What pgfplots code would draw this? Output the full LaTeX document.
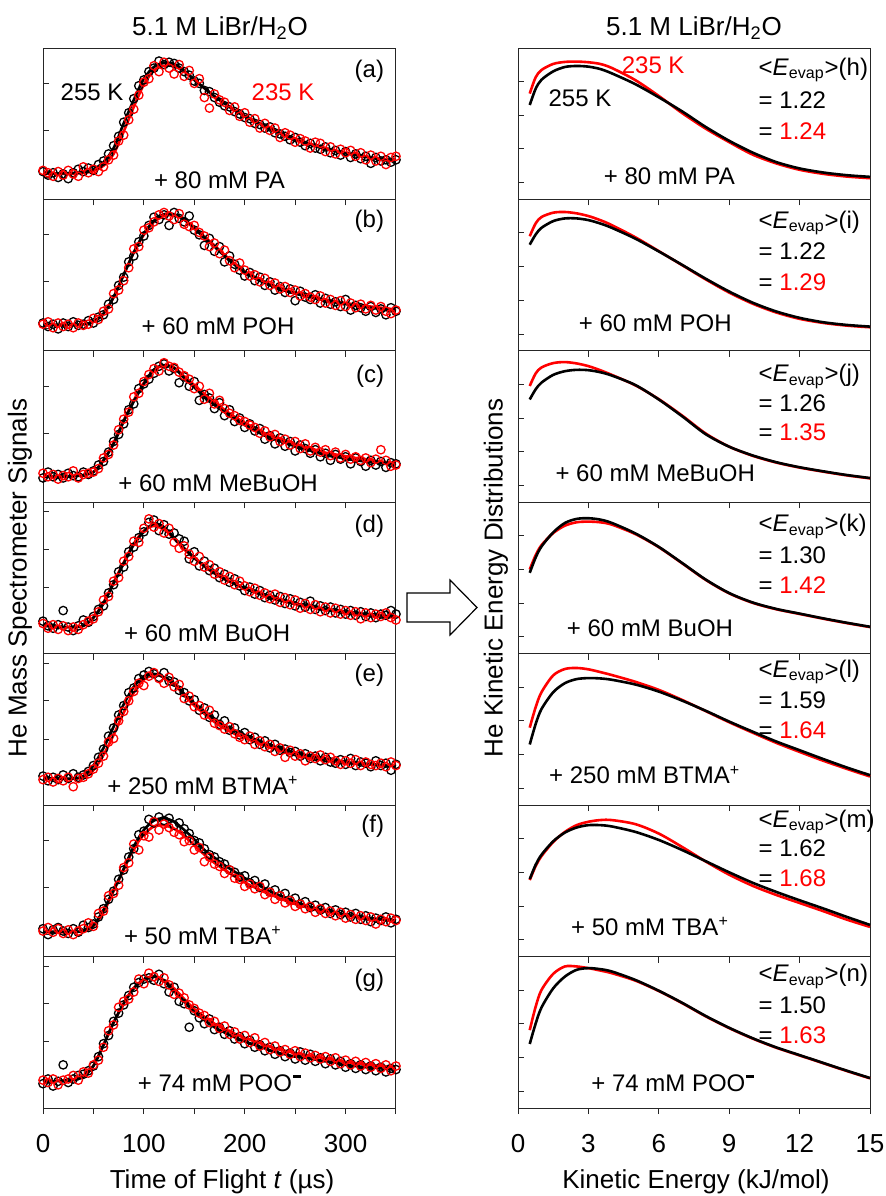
\documentclass[border=0pt]{standalone}
\usepackage{fontspec}
\setmainfont{Liberation Sans}
\usepackage{pgfplots}
\usepackage{pgfplotstable}
\pgfplotsset{compat=1.18}

% ---------- left column: TOF data (x K R) ----------
\pgfplotstableread{
x K R
0 0.05 0.06
5 0.02 0.04
10 0.04 0.01
15 0.00 0.05
20 0.03 0.02
25 -0.01 0.06
30 0.04 0.03
35 0.07 0.01
40 0.05 0.09
45 0.08 0.04
50 0.06 0.07
55 0.11 0.05
60 0.14 0.09
65 0.20 0.15
70 0.27 0.19
75 0.35 0.31
80 0.47 0.36
85 0.55 0.49
90 0.67 0.58
95 0.78 0.70
100 0.83 0.81
105 0.90 0.84
110 0.93 0.95
115 0.99 0.90
120 0.96 0.98
125 0.98 0.93
130 0.97 0.88
135 0.93 0.96
140 0.90 0.86
145 0.87 0.91
150 0.82 0.80
155 0.80 0.84
160 0.74 0.68
165 0.73 0.59
170 0.68 0.71
175 0.64 0.66
180 0.61 0.64
185 0.60 0.57
190 0.56 0.60
195 0.54 0.52
200 0.51 0.55
205 0.50 0.47
210 0.46 0.50
215 0.45 0.42
220 0.42 0.46
225 0.43 0.40
230 0.38 0.42
235 0.37 0.34
240 0.35 0.38
245 0.32 0.36
250 0.34 0.30
255 0.30 0.33
260 0.27 0.31
265 0.29 0.25
270 0.25 0.30
275 0.24 0.29
280 0.26 0.22
285 0.21 0.26
290 0.23 0.20
295 0.19 0.24
300 0.22 0.21
305 0.17 0.23
310 0.20 0.18
315 0.16 0.21
320 0.18 0.15
325 0.12 0.19
330 0.17 0.14
335 0.14 0.18
340 0.15 0.11
345 0.13 0.17
350 0.15 0.18
}\dataA
\pgfplotstableread{
x K R
0 0.05 0.04
5 0.02 0.06
10 0.04 0.01
15 0.00 0.05
20 0.05 0.02
25 0.02 0.04
30 0.06 0.01
35 0.03 0.05
40 0.04 0.03
45 0.07 0.04
50 0.05 0.09
55 0.10 0.08
60 0.12 0.15
65 0.21 0.17
70 0.25 0.30
75 0.37 0.33
80 0.44 0.41
85 0.57 0.52
90 0.62 0.68
95 0.74 0.70
100 0.79 0.84
105 0.88 0.86
110 0.95 0.91
115 0.93 0.97
120 0.97 0.99
125 0.88 0.96
130 0.99 0.93
135 0.94 0.98
140 0.91 0.89
145 0.96 0.87
150 0.84 0.88
155 0.80 0.82
160 0.71 0.79
165 0.77 0.70
170 0.66 0.73
175 0.70 0.64
180 0.57 0.67
185 0.62 0.58
190 0.55 0.52
195 0.50 0.56
200 0.45 0.50
205 0.48 0.45
210 0.41 0.46
215 0.44 0.40
220 0.37 0.43
225 0.40 0.37
230 0.33 0.39
235 0.36 0.34
240 0.31 0.36
245 0.34 0.31
250 0.24 0.33
255 0.32 0.28
260 0.27 0.30
265 0.25 0.27
270 0.29 0.25
275 0.22 0.28
280 0.26 0.22
285 0.21 0.25
290 0.23 0.20
295 0.19 0.24
300 0.25 0.19
305 0.16 0.22
310 0.20 0.18
315 0.18 0.21
320 0.15 0.17
325 0.19 0.20
330 0.14 0.16
335 0.17 0.19
340 0.12 0.15
345 0.18 0.13
350 0.15 0.16
}\dataB
\pgfplotstableread{
x K R
0 0.02 0.06
5 0.07 0.03
10 0.03 0.05
15 0.05 0.01
20 0.02 0.04
25 0.06 0.03
30 0.04 0.08
35 0.03 0.02
40 0.07 0.05
45 0.05 0.06
50 0.08 0.07
55 0.13 0.10
60 0.16 0.19
65 0.24 0.22
70 0.33 0.30
75 0.39 0.43
80 0.48 0.52
85 0.60 0.58
90 0.65 0.71
95 0.78 0.74
100 0.82 0.84
105 0.86 0.90
110 0.91 0.95
115 0.97 0.93
120 0.99 1.00
125 0.93 0.97
130 0.95 0.96
135 0.83 0.92
140 0.88 0.89
145 0.80 0.86
150 0.84 0.78
155 0.68 0.80
160 0.73 0.69
165 0.70 0.74
170 0.61 0.65
175 0.66 0.68
180 0.55 0.61
185 0.60 0.57
190 0.50 0.55
195 0.53 0.51
200 0.45 0.50
205 0.48 0.47
210 0.42 0.45
215 0.44 0.40
220 0.35 0.42
225 0.38 0.37
230 0.31 0.39
235 0.36 0.33
240 0.29 0.35
245 0.33 0.30
250 0.25 0.33
255 0.30 0.27
260 0.27 0.31
265 0.23 0.25
270 0.26 0.28
275 0.20 0.24
280 0.23 0.26
285 0.17 0.21
290 0.22 0.24
295 0.18 0.19
300 0.20 0.22
305 0.14 0.18
310 0.19 0.20
315 0.16 0.17
320 0.12 0.19
325 0.17 0.15
330 0.13 0.18
335 0.16 0.26
340 0.11 0.17
345 0.15 0.12
350 0.14 0.13
}\dataC
\pgfplotstableread{
x K R
0 0.09 0.07
5 0.05 0.03
10 0.03 0.06
15 0.06 0.02
20 0.18 0.05
25 0.04 0.01
30 0.01 0.04
35 0.05 0.02
40 0.10 0.06
45 0.08 0.09
50 0.13 0.11
55 0.19 0.17
60 0.22 0.27
65 0.33 0.30
70 0.40 0.43
75 0.51 0.46
80 0.55 0.60
85 0.68 0.64
90 0.72 0.77
95 0.80 0.76
100 0.85 0.88
105 0.93 0.96
110 0.95 0.89
115 0.86 0.92
120 0.91 0.84
125 0.83 0.88
130 0.84 0.76
135 0.79 0.71
140 0.77 0.73
145 0.62 0.66
150 0.68 0.60
155 0.56 0.64
160 0.60 0.55
165 0.52 0.57
170 0.54 0.49
175 0.46 0.51
180 0.49 0.44
185 0.42 0.47
190 0.45 0.40
195 0.39 0.43
200 0.35 0.39
205 0.38 0.34
210 0.32 0.37
215 0.35 0.31
220 0.29 0.33
225 0.31 0.28
230 0.27 0.32
235 0.30 0.25
240 0.24 0.29
245 0.28 0.23
250 0.22 0.27
255 0.25 0.20
260 0.21 0.24
265 0.26 0.19
270 0.19 0.23
275 0.22 0.17
280 0.18 0.21
285 0.21 0.16
290 0.16 0.20
295 0.19 0.15
300 0.15 0.18
305 0.18 0.14
310 0.14 0.17
315 0.17 0.11
320 0.13 0.16
325 0.16 0.12
330 0.12 0.15
335 0.15 0.13
340 0.14 0.16
345 0.18 0.12
350 0.15 0.10
}\dataD
\pgfplotstableread{
x K R
0 0.06 0.03
5 0.02 0.05
10 0.05 0.01
15 0.03 0.04
20 0.07 0.02
25 0.04 0.05
30 0.08 -0.03
35 0.05 0.04
40 0.07 0.05
45 0.10 0.08
50 0.15 0.12
55 0.22 0.17
60 0.29 0.23
65 0.40 0.35
70 0.47 0.38
75 0.58 0.53
80 0.66 0.61
85 0.77 0.70
90 0.81 0.78
95 0.89 0.85
100 0.92 0.83
105 0.95 0.91
110 0.93 0.94
115 0.90 0.89
120 0.94 0.85
125 0.87 0.90
130 0.86 0.82
135 0.79 0.84
140 0.77 0.72
145 0.70 0.74
150 0.71 0.65
155 0.62 0.66
160 0.64 0.58
165 0.56 0.62
170 0.58 0.51
175 0.50 0.49
180 0.53 0.46
185 0.45 0.48
190 0.47 0.42
195 0.41 0.39
200 0.43 0.37
205 0.37 0.40
210 0.39 0.33
215 0.33 0.36
220 0.36 0.31
225 0.30 0.33
230 0.33 0.27
235 0.28 0.30
240 0.29 0.22
245 0.26 0.28
250 0.27 0.23
255 0.23 0.25
260 0.25 0.19
265 0.21 0.23
270 0.23 0.21
275 0.19 0.24
280 0.22 0.20
285 0.18 0.22
290 0.17 0.19
295 0.20 0.16
300 0.16 0.19
305 0.21 0.17
310 0.15 0.20
315 0.18 0.15
320 0.17 0.18
325 0.14 0.16
330 0.19 0.15
335 0.15 0.17
340 0.17 0.14
345 0.11 0.18
350 0.16 0.15
}\dataE
\pgfplotstableread{
x K R
0 0.05 0.03
5 0.00 0.06
10 0.04 0.02
15 0.06 0.05
20 0.03 0.01
25 0.01 0.04
30 0.05 0.00
35 0.02 0.03
40 0.08 0.05
45 0.06 0.10
50 0.09 0.07
55 0.15 0.18
60 0.22 0.20
65 0.30 0.33
70 0.37 0.35
75 0.47 0.42
80 0.55 0.57
85 0.66 0.61
90 0.73 0.77
95 0.85 0.72
100 0.88 0.84
105 0.98 0.83
110 0.95 0.96
115 1.00 0.89
120 0.97 0.94
125 0.99 0.91
130 0.93 0.87
135 0.95 0.85
140 0.90 0.79
145 0.86 0.80
150 0.80 0.72
155 0.78 0.74
160 0.73 0.62
165 0.68 0.66
170 0.66 0.60
175 0.62 0.58
180 0.60 0.52
185 0.55 0.55
190 0.53 0.48
195 0.49 0.47
200 0.50 0.41
205 0.44 0.43
210 0.46 0.39
215 0.40 0.41
220 0.43 0.34
225 0.36 0.36
230 0.38 0.30
235 0.33 0.33
240 0.35 0.27
245 0.29 0.29
250 0.31 0.24
255 0.26 0.26
260 0.28 0.22
265 0.23 0.24
270 0.25 0.19
275 0.21 0.22
280 0.23 0.18
285 0.18 0.20
290 0.21 0.16
295 0.17 0.19
300 0.19 0.14
305 0.15 0.17
310 0.18 0.13
315 0.13 0.16
320 0.16 0.12
325 0.11 0.15
330 0.14 0.09
335 0.12 0.13
340 0.15 0.11
345 0.10 0.14
350 0.13 0.12
}\dataF
\pgfplotstableread{
x K R
0 0.02 0.05
5 0.06 0.03
10 0.00 0.06
15 0.04 0.01
20 0.18 0.05
25 0.03 0.06
30 0.06 0.09
35 0.09 0.05
40 0.10 0.12
45 0.13 0.11
50 0.17 0.18
55 0.25 0.22
60 0.36 0.33
65 0.43 0.47
70 0.55 0.52
75 0.62 0.67
80 0.69 0.72
85 0.77 0.74
90 0.84 0.80
95 0.88 0.91
100 0.91 0.87
105 0.92 0.96
110 0.90 0.93
115 0.95 0.89
120 0.87 0.92
125 0.80 0.86
130 0.84 0.78
135 0.72 0.79
140 0.70 0.75
145 0.50 0.69
150 0.64 0.66
155 0.58 0.62
160 0.53 0.60
165 0.57 0.54
170 0.48 0.55
175 0.50 0.49
180 0.44 0.51
185 0.47 0.44
190 0.40 0.46
195 0.42 0.40
200 0.36 0.43
205 0.39 0.37
210 0.33 0.41
215 0.35 0.34
220 0.30 0.37
225 0.33 0.31
230 0.27 0.34
235 0.30 0.29
240 0.25 0.31
245 0.28 0.27
250 0.23 0.30
255 0.29 0.25
260 0.22 0.28
265 0.27 0.24
270 0.21 0.26
275 0.24 0.23
280 0.19 0.25
285 0.23 0.21
290 0.18 0.24
295 0.21 0.19
300 0.16 0.22
305 0.19 0.18
310 0.15 0.21
315 0.18 0.17
320 0.14 0.20
325 0.17 0.16
330 0.13 0.19
335 0.16 0.15
340 0.12 0.18
345 0.15 0.13
350 0.14 0.17
}\dataG

% ---------- left column: fitted curves ----------
\pgfplotstableread{
x K R
0 0.035 0.030
10 0.035 0.030
20 0.035 0.030
30 0.038 0.032
40 0.045 0.038
50 0.070 0.055
60 0.130 0.100
70 0.250 0.200
80 0.460 0.390
90 0.660 0.600
100 0.840 0.790
110 0.940 0.910
120 0.975 0.950
130 0.965 0.945
140 0.910 0.900
150 0.830 0.830
160 0.760 0.760
170 0.690 0.690
180 0.630 0.630
190 0.570 0.575
200 0.520 0.525
210 0.475 0.480
220 0.435 0.440
230 0.395 0.400
240 0.355 0.362
250 0.322 0.330
260 0.292 0.300
270 0.266 0.273
280 0.242 0.250
290 0.222 0.228
300 0.205 0.210
310 0.190 0.195
320 0.175 0.180
330 0.160 0.165
340 0.147 0.152
350 0.135 0.140
}\fitA
\pgfplotstableread{
x K R
0 0.033 0.033
10 0.033 0.033
20 0.033 0.033
30 0.035 0.035
40 0.040 0.040
50 0.060 0.060
60 0.130 0.130
70 0.270 0.270
80 0.460 0.460
90 0.650 0.650
100 0.810 0.800
110 0.920 0.910
120 0.975 0.960
130 0.975 0.965
140 0.930 0.930
150 0.855 0.860
160 0.775 0.785
170 0.700 0.710
180 0.620 0.630
190 0.545 0.555
200 0.480 0.490
210 0.430 0.440
220 0.390 0.400
230 0.355 0.365
240 0.325 0.335
250 0.300 0.310
260 0.280 0.290
270 0.260 0.270
280 0.240 0.250
290 0.225 0.235
300 0.210 0.220
310 0.197 0.207
320 0.185 0.195
330 0.175 0.185
340 0.165 0.175
350 0.155 0.165
}\fitB
\pgfplotstableread{
x K R
0 0.030 0.030
10 0.030 0.030
20 0.030 0.030
30 0.035 0.035
40 0.045 0.045
50 0.070 0.070
60 0.170 0.170
70 0.310 0.320
80 0.500 0.510
90 0.670 0.680
100 0.820 0.830
110 0.940 0.940
120 0.980 0.975
130 0.955 0.960
140 0.870 0.885
150 0.790 0.810
160 0.710 0.735
170 0.640 0.665
180 0.580 0.600
190 0.520 0.540
200 0.470 0.490
210 0.425 0.445
220 0.380 0.400
230 0.350 0.370
240 0.320 0.340
250 0.290 0.310
260 0.265 0.285
270 0.240 0.260
280 0.215 0.235
290 0.200 0.220
300 0.185 0.205
310 0.170 0.190
320 0.160 0.180
330 0.150 0.165
340 0.140 0.155
350 0.130 0.145
}\fitC
\pgfplotstableread{
x K R
0 0.050 0.050
10 0.045 0.045
20 0.040 0.040
30 0.040 0.040
40 0.050 0.050
50 0.120 0.120
60 0.240 0.250
70 0.410 0.420
80 0.580 0.590
90 0.740 0.750
100 0.850 0.860
110 0.920 0.900
120 0.890 0.870
130 0.800 0.790
140 0.710 0.700
150 0.630 0.625
160 0.560 0.555
170 0.500 0.495
180 0.450 0.445
190 0.410 0.405
200 0.370 0.365
210 0.340 0.335
220 0.310 0.305
230 0.280 0.275
240 0.260 0.255
250 0.240 0.235
260 0.225 0.215
270 0.210 0.200
280 0.195 0.185
290 0.185 0.175
300 0.170 0.160
310 0.160 0.150
320 0.150 0.140
330 0.145 0.133
340 0.135 0.125
350 0.130 0.120
}\fitD
\pgfplotstableread{
x K R
0 0.040 0.035
10 0.040 0.035
20 0.040 0.035
30 0.040 0.037
40 0.060 0.050
50 0.150 0.110
60 0.300 0.240
70 0.480 0.410
80 0.670 0.600
90 0.820 0.770
100 0.910 0.880
110 0.930 0.920
120 0.900 0.900
130 0.850 0.840
140 0.760 0.750
150 0.680 0.660
160 0.610 0.590
170 0.550 0.520
180 0.490 0.465
190 0.450 0.420
200 0.410 0.385
210 0.375 0.350
220 0.340 0.320
230 0.310 0.290
240 0.285 0.265
250 0.260 0.240
260 0.240 0.220
270 0.225 0.205
280 0.210 0.190
290 0.195 0.180
300 0.180 0.170
310 0.170 0.165
320 0.165 0.160
330 0.160 0.155
340 0.150 0.150
350 0.146 0.146
}\fitE
\pgfplotstableread{
x K R
0 0.025 0.020
10 0.025 0.020
20 0.025 0.020
30 0.025 0.022
40 0.030 0.030
50 0.080 0.070
60 0.210 0.190
70 0.380 0.370
80 0.560 0.550
90 0.750 0.730
100 0.890 0.850
110 0.970 0.920
120 0.990 0.930
130 0.960 0.900
140 0.890 0.840
150 0.810 0.760
160 0.720 0.680
170 0.655 0.610
180 0.590 0.550
190 0.535 0.495
200 0.480 0.445
210 0.440 0.400
220 0.390 0.360
230 0.350 0.325
240 0.315 0.290
250 0.280 0.260
260 0.250 0.235
270 0.225 0.210
280 0.205 0.195
290 0.190 0.180
300 0.170 0.165
310 0.155 0.150
320 0.145 0.140
330 0.135 0.130
340 0.125 0.125
350 0.120 0.120
}\fitF
\pgfplotstableread{
x K R
0 0.037 0.040
10 0.040 0.042
20 0.045 0.047
30 0.050 0.055
40 0.080 0.085
50 0.170 0.175
60 0.350 0.350
70 0.540 0.540
80 0.700 0.705
90 0.830 0.835
100 0.900 0.905
110 0.930 0.935
120 0.890 0.900
130 0.810 0.830
140 0.720 0.740
150 0.630 0.655
160 0.560 0.590
170 0.500 0.530
180 0.455 0.485
190 0.415 0.445
200 0.380 0.410
210 0.350 0.380
220 0.320 0.350
230 0.290 0.320
240 0.270 0.300
250 0.250 0.280
260 0.240 0.265
270 0.225 0.250
280 0.210 0.235
290 0.200 0.220
300 0.180 0.205
310 0.170 0.195
320 0.160 0.185
330 0.155 0.175
340 0.145 0.168
350 0.140 0.160
}\fitG

% ---------- right column: kinetic energy distributions (E K R) ----------
\pgfplotstableread{
E K R
0.5 2.80 3.14
0.75 3.28 3.62
1 3.55 3.84
1.5 3.80 4.02
2 3.93 4.08
2.5 3.96 4.09
3 3.94 4.07
3.5 3.87 4.02
4 3.74 3.90
5 3.42 3.54
6 3.03 3.07
7 2.61 2.56
8 2.15 2.10
9 1.74 1.70
10 1.39 1.33
11 1.11 1.07
12 0.92 0.88
13 0.80 0.76
14 0.72 0.68
15 0.67 0.63
}\distH
\pgfplotstableread{
E K R
0.5 3.15 3.40
0.75 3.45 3.78
1 3.65 3.97
1.5 3.85 4.10
2 3.93 4.12
2.5 3.93 4.08
3 3.88 4.00
3.5 3.78 3.88
4 3.65 3.73
5 3.33 3.37
6 2.95 2.96
7 2.55 2.54
8 2.14 2.12
9 1.76 1.73
10 1.43 1.40
11 1.17 1.14
12 0.98 0.95
13 0.85 0.83
14 0.77 0.75
15 0.72 0.70
}\distI
\pgfplotstableread{
E K R
0.5 3.05 3.45
0.75 3.35 3.82
1 3.55 4.00
1.5 3.78 4.13
2 3.89 4.16
2.5 3.93 4.12
3 3.92 4.04
3.5 3.86 3.92
4 3.76 3.78
5 3.48 3.47
6 3.05 3.06
7 2.55 2.57
8 2.02 2.04
9 1.65 1.65
10 1.39 1.38
11 1.19 1.18
12 1.04 1.03
13 0.92 0.91
14 0.81 0.80
15 0.72 0.71
}\distJ
\pgfplotstableread{
E K R
0.5 2.40 2.50
0.75 2.85 2.92
1 3.18 3.22
1.5 3.60 3.58
2 3.88 3.80
2.5 4.00 3.90
3 4.02 3.92
3.5 3.98 3.90
4 3.88 3.83
5 3.57 3.55
6 3.17 3.16
7 2.69 2.68
8 2.20 2.19
9 1.80 1.79
10 1.52 1.51
11 1.33 1.32
12 1.19 1.18
13 1.05 1.04
14 0.92 0.91
15 0.80 0.79
}\distK
\pgfplotstableread{
E K R
0.5 1.80 2.30
0.75 2.40 2.90
1 2.85 3.35
1.5 3.35 3.85
2 3.62 4.04
2.5 3.74 4.07
3 3.77 4.03
3.5 3.76 3.95
4 3.72 3.86
5 3.58 3.66
6 3.37 3.42
7 3.10 3.12
8 2.80 2.79
9 2.48 2.46
10 2.18 2.15
11 1.89 1.85
12 1.63 1.58
13 1.37 1.32
14 1.12 1.08
15 0.89 0.85
}\distL
\pgfplotstableread{
E K R
0.5 2.30 2.27
0.75 2.72 2.68
1 3.02 2.98
1.5 3.42 3.40
2 3.68 3.70
2.5 3.83 3.90
3 3.90 4.00
3.5 3.90 4.05
4 3.86 4.05
5 3.70 3.93
6 3.46 3.65
7 3.16 3.25
8 2.83 2.82
9 2.50 2.43
10 2.19 2.10
11 1.92 1.83
12 1.67 1.59
13 1.43 1.35
14 1.18 1.10
15 0.94 0.88
}\distM
\pgfplotstableread{
E K R
0.5 1.90 2.31
0.75 2.50 3.00
1 2.98 3.50
1.5 3.55 3.98
2 3.90 4.20
2.5 4.10 4.20
3 4.15 4.15
3.5 4.12 4.08
4 4.05 4.00
5 3.80 3.78
6 3.48 3.47
7 3.12 3.11
8 2.73 2.72
9 2.38 2.37
10 2.07 2.06
11 1.80 1.79
12 1.57 1.56
13 1.34 1.33
14 1.11 1.10
15 0.89 0.88
}\distN

\pgfplotsset{
  panel/.style={scale only axis, height=75.714pt, anchor=north west,
    axis line style={black!85, line width=0.5pt},
    xtick align=outside, ytick align=inside,
    xtick pos=left, ytick pos=left, major tick length=3pt,
    tick style={black!85, line width=0.5pt},
    yticklabels={}, clip=false,
    /pgf/number format/assume math mode=true,
    xticklabel style={yshift=-6pt, font=\fontsize{13}{15}\selectfont}},
  leftp/.style={panel, width=176.5pt, xmin=0, xmax=350, ymin=-0.187, ymax=1.101,
    xtick={0,50,...,350}, xticklabels={}},
  rightp/.style={panel, width=176pt, xmin=0, xmax=15, ymin=0, ymax=4.493,
    xtick={0,3,...,15}, xticklabels={}, ytick={0.5,1.5,2.5,3.5}},
  kpts/.style={only marks, mark=o, black, mark size=2.1pt, mark options={line width=0.65pt}},
  rpts/.style={only marks, mark=o, red, mark size=2.1pt, mark options={line width=0.65pt}},
}

% #1 row, #2 data, #3 fit, #4 yticks, #5 options, #6 labels
\newcommand{\LP}[6]{%
  \begin{axis}[leftp, at={(21.5pt,{-24pt-#1*75.714pt})}, ytick={#4}, #5]
    \addplot[kpts] table[x=x,y=K]{#2};
    \addplot[rpts] table[x=x,y=R]{#2};
    \addplot[red, line width=1.3pt, smooth] table[x=x,y=R]{#3};
    \addplot[black, line width=1.3pt, smooth] table[x=x,y=K]{#3};
    #6
  \end{axis}}

% #1 row, #2 table, #3 options, #4 labels
\newcommand{\RP}[4]{%
  \begin{axis}[rightp, at={(259pt,{-24pt-#1*75.714pt})}, #3]
    \addplot[red, line width=1.3pt, smooth] table[x=E,y=R]{#2};
    \addplot[black, line width=1.3pt, smooth] table[x=E,y=K]{#2};
    #4
  \end{axis}}

% <E_evap> block: #1 letter, #2 black value, #3 red value, #4-#6 rel y of rows
\newcommand{\EV}[6]{%
  \node[anchor=west] at (rel axis cs:0.66,#4) {<\textit{E}\textsubscript{evap}>(#1)};
  \node[anchor=west] at (rel axis cs:0.66,#5) {= #2};
  \node[anchor=west] at (rel axis cs:0.66,#6) {= \textcolor{red}{#3}};}

\newcommand{\minus}{\hspace{0.5pt}\raisebox{6.5pt}{\rule{4pt}{1.6pt}}}

\begin{document}
\fontsize{12}{14}\selectfont
\begin{tikzpicture}
\useasboundingbox (0,0) rectangle (443pt,-598pt);

\LP{0}{\dataA}{\fitA}{0,0.4,0.8}{}{
  \node[anchor=east] at (rel axis cs:0.99,0.843) {(a)};
  \node at (rel axis cs:0.139,0.71) {255 K};
  \node[red] at (rel axis cs:0.68,0.71) {235 K};
  \node at (rel axis cs:0.50,0.13) {+ 80 mM PA};}
\LP{1}{\dataB}{\fitB}{0,0.4,0.8}{}{
  \node[anchor=east] at (rel axis cs:0.99,0.853) {(b)};
  \node at (rel axis cs:0.496,0.165) {+ 60 mM POH};}
\LP{2}{\dataC}{\fitC}{0,0.4,0.8}{}{
  \node[anchor=east] at (rel axis cs:0.99,0.83) {(c)};
  \node at (rel axis cs:0.496,0.127) {+ 60 mM MeBuOH};}
\LP{3}{\dataD}{\fitD}{0.055,0.375,0.70,1.02}{}{
  \node[anchor=east] at (rel axis cs:0.99,0.84) {(d)};
  \node at (rel axis cs:0.465,0.135) {+ 60 mM BuOH};}
\LP{4}{\dataE}{\fitE}{0.055,0.375,0.70,1.02}{}{
  \node[anchor=east] at (rel axis cs:0.99,0.86) {(e)};
  \node at (rel axis cs:0.453,0.13) {+ 250 mM BTMA\textsuperscript{+}};}
\LP{5}{\dataF}{\fitF}{0,0.4,0.8}{}{
  \node[anchor=east] at (rel axis cs:0.99,0.86) {(f)};
  \node at (rel axis cs:0.453,0.14) {+ 50 mM TBA\textsuperscript{+}};}
\LP{6}{\dataG}{\fitG}{0.055,0.375,0.70,1.02}{xticklabels={0,,100,,200,,300,}}{
  \node[anchor=east] at (rel axis cs:0.99,0.845) {(g)};
  \node at (rel axis cs:0.50,0.165) {+ 74 mM POO\minus};}

\RP{0}{\distH}{}{
  \EV{h}{1.22}{1.24}{0.855}{0.657}{0.452}
  \node[red] at (rel axis cs:0.384,0.888) {235 K};
  \node at (rel axis cs:0.176,0.67) {255 K};
  \node at (rel axis cs:0.43,0.15) {+ 80 mM PA};}
\RP{1}{\distI}{}{
  \EV{i}{1.22}{1.29}{0.845}{0.657}{0.455}
  \node at (rel axis cs:0.39,0.18) {+ 60 mM POH};}
\RP{2}{\distJ}{}{
  \EV{j}{1.26}{1.35}{0.83}{0.657}{0.46}
  \node at (rel axis cs:0.39,0.19) {+ 60 mM MeBuOH};}
\RP{3}{\distK}{}{
  \EV{k}{1.30}{1.42}{0.84}{0.652}{0.454}
  \node at (rel axis cs:0.375,0.17) {+ 60 mM BuOH};}
\RP{4}{\distL}{}{
  \EV{l}{1.59}{1.64}{0.88}{0.694}{0.496}
  \node at (rel axis cs:0.36,0.2) {+ 250 mM BTMA\textsuperscript{+}};}
\RP{5}{\distM}{}{
  \EV{m}{1.62}{1.68}{0.89}{0.715}{0.516}
  \node at (rel axis cs:0.375,0.2) {+ 50 mM TBA\textsuperscript{+}};}
\RP{6}{\distN}{xticklabels={0,3,6,9,12,15}}{
  \EV{n}{1.50}{1.63}{0.868}{0.68}{0.48}
  \node at (rel axis cs:0.44,0.165) {+ 74 mM POO\minus};}

% titles and axis labels
\begin{scope}[font=\fontsize{13}{15}\selectfont]
\node at (110pt,-14pt) {5.1 M LiBr/H\textsubscript{2}O};
\node at (347pt,-14pt) {5.1 M LiBr/H\textsubscript{2}O};
\node at (111pt,-591pt) {Time of Flight \textit{t} (µs)};
\node at (348pt,-591pt) {Kinetic Energy (kJ/mol)};
\node[rotate=90] at (10pt,-289pt) {He Mass Spectrometer Signals};
\node[rotate=90] at (248pt,-289pt) {He Kinetic Energy Distributions};
\end{scope}

% block arrow between the columns
\draw[line width=0.6pt, fill=white] (203.5pt,-296.5pt) -- (225pt,-296.5pt) -- (225pt,-290pt)
  -- (238.5pt,-303.75pt) -- (225pt,-317.5pt) -- (225pt,-311pt) -- (203.5pt,-311pt) -- cycle;
\end{tikzpicture}
\end{document}
